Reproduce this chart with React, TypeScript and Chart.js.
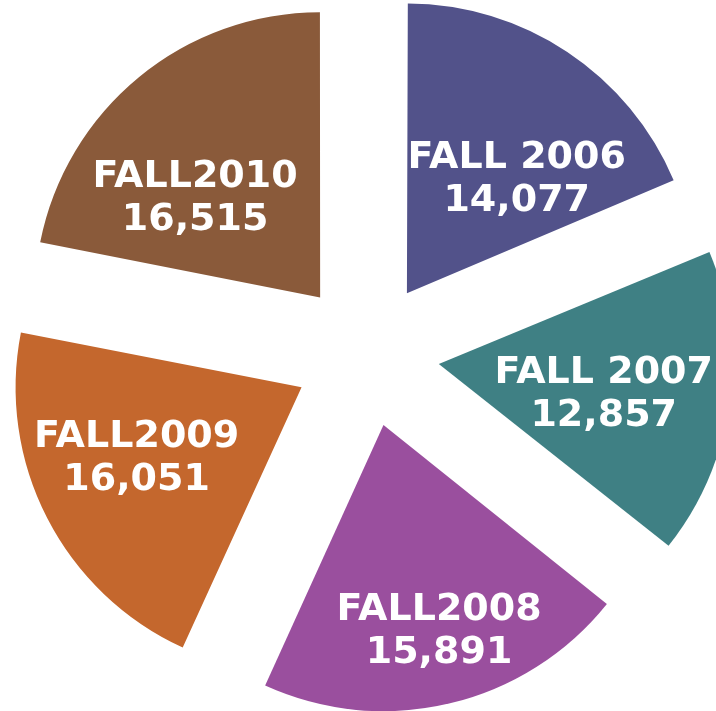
import React, { useEffect, useRef } from "react";
import { Chart, registerables } from "chart.js";

Chart.register(...registerables);

const categories = ["FALL 2006", "FALL 2007", "FALL2008", "FALL2009", "FALL2010"];
const enrollment = [14077, 12857, 15891, 16051, 16515];
const sliceColors = ["#52528A", "#3F8084", "#9A4F9E", "#C4672D", "#8A5A3A"];

// Chart.js 4 translates an arc by offset/4, so 292 -> 73px explode
const EXPLODE = 292;

// label placement relative to each exploded slice tip: distance (px) and angular shift (deg)
const labelDistance = [161, 167, 210, 178, 162];
const labelShift = [9.4, 1.1, -1.9, 5.1, -11.1];

const fmt = (v: number) => v.toLocaleString("en-US");

const labelPlugin = {
  id: "sliceLabels",
  afterDatasetsDraw(chart: any) {
    const meta = chart.getDatasetMeta(0);
    const ctx = chart.ctx;
    const ds = chart.data.datasets[0];
    ctx.save();
    ctx.fillStyle = "#ffffff";
    ctx.font = "bold 38px 'DejaVu Sans', Verdana, sans-serif";
    ctx.textAlign = "center";
    ctx.textBaseline = "alphabetic";
    meta.data.forEach((arc: any, i: number) => {
      const p = arc.getProps(["x", "y", "startAngle", "endAngle"], true);
      const mid = (p.startAngle + p.endAngle) / 2;
      const off = (arc.options.offset || 0) / 4;
      const tx = p.x + Math.cos(mid) * off;
      const ty = p.y + Math.sin(mid) * off;
      const a = mid + (labelShift[i] * Math.PI) / 180;
      const cx = tx + Math.cos(a) * labelDistance[i];
      const cy = ty + Math.sin(a) * labelDistance[i];
      ctx.fillText(String(chart.data.labels[i]), cx, cy + 13.8 - 21.5);
      ctx.fillText(fmt(ds.data[i]), cx, cy + 13.8 + 21.5);
    });
    ctx.restore();
  },
};

export default function App() {
  const ref = useRef<HTMLCanvasElement | null>(null);
  useEffect(() => {
    if (!ref.current) return;
    const chart = new Chart(ref.current, {
      type: "pie",
      data: {
        labels: categories,
        datasets: [
          {
            data: enrollment,
            backgroundColor: sliceColors,
            borderWidth: 0,
            offset: EXPLODE,
            clip: false as any,
          } as any,
        ],
      },
      options: {
        animation: false,
        responsive: true,
        maintainAspectRatio: false,
        radius: 284,
        layout: { padding: { left: 17, top: 0, right: 0, bottom: 3 } },
        plugins: {
          legend: { display: false },
          tooltip: { enabled: false },
        },
      } as any,
      plugins: [labelPlugin],
    });
    return () => chart.destroy();
  }, []);
  return (
    <div
      style={{
        position: "absolute",
        left: 0,
        top: 0,
        width: 716,
        height: 711,
        overflow: "hidden",
        background: "#ffffff",
      }}
    >
      <canvas ref={ref} />
    </div>
  );
}
